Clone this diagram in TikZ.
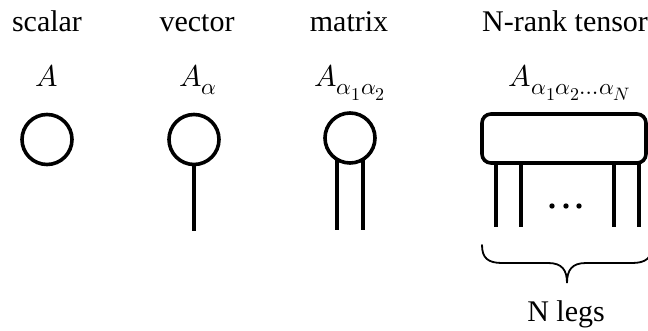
\documentclass[tikz,border=0pt]{standalone}
\usepackage{fontspec}
\usepackage{unicode-math}
\setmainfont{Liberation Serif}
\setmathfont{Latin Modern Math}
\DeclareMathSizes{30}{30}{23}{18}
\begin{document}
\begin{tikzpicture}[x=1pt,y=-1pt,
  title/.style={font=\fontsize{30}{33}\selectfont, anchor=base, inner sep=0pt},
  sym/.style={font=\fontsize{30}{33}\selectfont, anchor=base, inner sep=0pt},
  tnode/.style={draw, line width=3.6pt, circle, minimum size=50pt, inner sep=0pt},
  leg/.style={line width=3.8pt},
  brace/.style={line width=1.8pt, line cap=round}]
\useasboundingbox (0,0) rectangle (648,331);
% titles
\node[title] (t1) at (47,32) {scalar};
\node[title] (t2) at (197,32) {vector};
\node[title] (t3) at (349,32) {matrix};
\node[title, anchor=base west] (t4) at (482,32) {N-rank tensor};
% symbols
\node[sym] (s1) at (47,87) {$A$};
\node[sym] (s2) at (198,87) {$A_{\alpha}$};
\node[sym] (s3) at (350,87) {$A_{\alpha_1\alpha_2}$};
\node[sym] (s4) at (570,87) {$A_{\alpha_1\alpha_2\ldots\alpha_N}$};
% scalar
\node[tnode] (c1) at (47,139.5) {};
% vector
\node[tnode] (c2) at (194,139.5) {};
\coordinate (v1) at (194,231);
\draw[leg] (c2.south) -- (v1);
% matrix
\node[tnode] (c3) at (350,138) {};
\coordinate (m1a) at (337,159);
\coordinate (m1b) at (337,230);
\coordinate (m2a) at (363,159);
\coordinate (m2b) at (363,230);
\draw[leg] (m1a) -- (m1b);
\draw[leg] (m2a) -- (m2b);
% tensor
\node[draw, line width=3.6pt, rounded corners=9pt, minimum width=164pt, minimum height=49pt, inner sep=0pt] (r) at (564,138.5) {};
\foreach \x [count=\i] in {496,521,614,639}{
  \coordinate (ta\i) at (\x,163);
  \coordinate (tb\i) at (\x,227);
  \draw[leg] (ta\i) -- (tb\i);
}
\foreach \x in {552,566,579}{\fill (\x,206) circle (2.7pt);}
% brace
\draw[brace] (482,245) .. controls (482,258) and (488,263) .. (502,263)
  -- (548,263) .. controls (562,263) and (567,270) .. (567,283)
  .. controls (567,270) and (572,263) .. (586,263)
  -- (632,263) .. controls (646,263) and (652,258) .. (652,245);
\node[title] (nl) at (566,321) {N legs};
\end{tikzpicture}
\end{document}
